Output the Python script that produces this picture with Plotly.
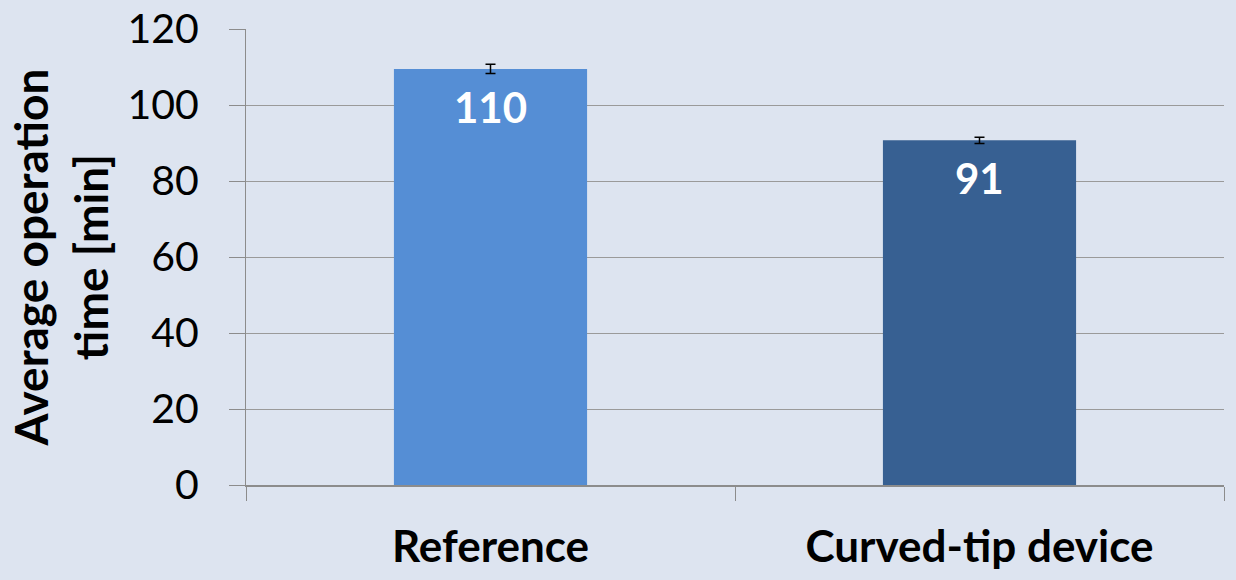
import plotly.graph_objects as go

categories = ["Reference", "Curved-tip device"]
values = [109.5, 90.7]
errors = [1.2, 0.8]
labels = ["110", "91"]
colors = ["#558ED5", "#376092"]
yticks = [0, 20, 40, 60, 80, 100, 120]

FONT = "Lato, Open Sans, sans-serif"

fig = go.Figure()
fig.add_trace(go.Bar(
    x=categories, y=values,
    marker=dict(color=colors, line=dict(width=0)),
    error_y=dict(type="data", array=errors, color="#000000", thickness=1.5, width=5),
    width=0.395,
    hoverinfo="skip",
))
for c, v, t in zip(categories, values, labels):
    fig.add_annotation(x=c, y=v, text=t, showarrow=False, yanchor="top", yshift=-11,
                       font=dict(family=FONT, size=42, color="white", weight="bold"))

bg = "#DDE4F0"
fig.update_layout(
    width=1236, height=580,
    paper_bgcolor=bg, plot_bgcolor=bg,
    margin=dict(l=246, r=12, t=29, b=95),
    showlegend=False,
    font=dict(family=FONT, color="#000000"),
)
fig.update_yaxes(
    range=[0, 120], tickvals=yticks, ticks="outside", ticklen=16, tickcolor="#8C8C8C",
    showline=True, linecolor="#8C8C8C", linewidth=1,
    showgrid=True, gridcolor="#9A9A9A", gridwidth=1, zeroline=False,
    ticklabelstandoff=22, automargin=False,
    tickfont=dict(size=41, family=FONT),
    title=dict(text="Average operation<br>time [min]", standoff=4,
               font=dict(size=46, family=FONT, weight="bold")),
)
fig.update_xaxes(
    ticks="outside", tickson="boundaries", ticklen=14, tickcolor="#8C8C8C",
    showline=True, linecolor="#8C8C8C", linewidth=2,
    ticklabelstandoff=22, automargin=False,
    tickfont=dict(size=44, family=FONT, weight="bold"),
    range=[-0.5, 1.5],
)
fig.write_html("out.html", config={"displayModeBar": False},
               post_script="document.body.style.margin='0';")
